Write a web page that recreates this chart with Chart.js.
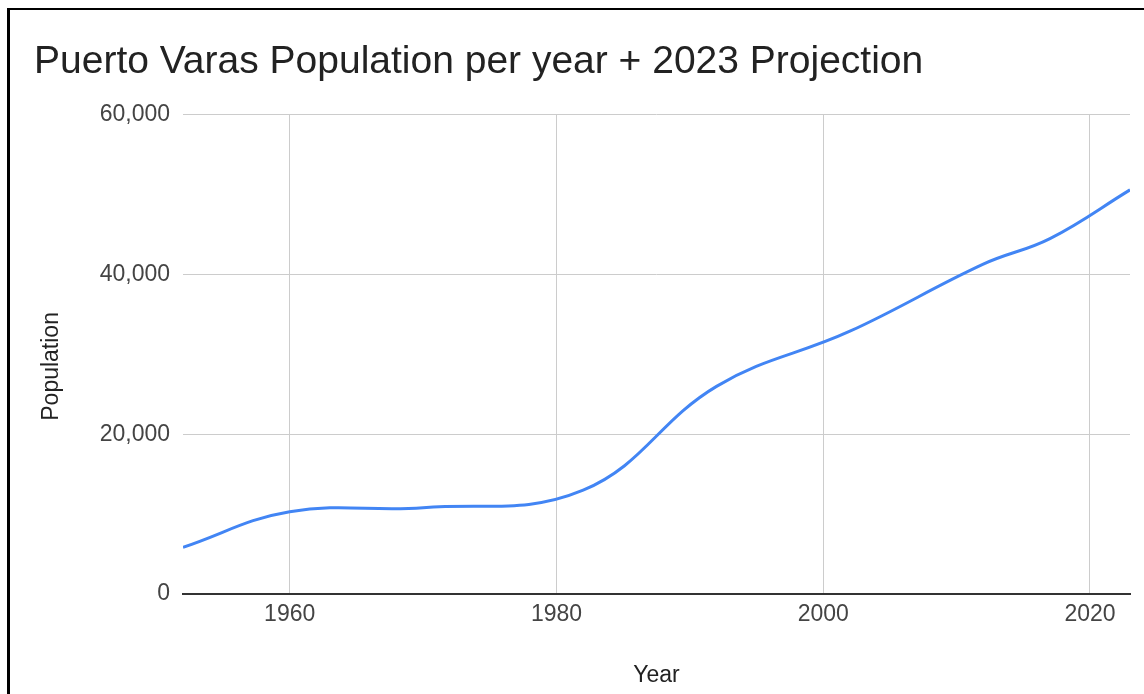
<!DOCTYPE html>
<html>
<head>
<meta charset="utf-8">
<title>Puerto Varas Population</title>
<script src="https://cdn.jsdelivr.net/npm/chart.js@4/dist/chart.umd.min.js"></script>
<style>
  html, body { margin: 0; padding: 0; background: #fff; overflow: hidden; }
  #wrap { position: relative; width: 1144px; height: 694px; }
  #frame {
    position: absolute; left: 7px; top: 8px; width: 1200px; height: 800px;
    border-left: 3px solid #000; border-top: 2px solid #000; pointer-events: none;
  }
</style>
</head>
<body>
<div id="wrap">
  <canvas id="chart" width="1144" height="694"></canvas>
  <div id="frame"></div>
</div>
<script>
// Census counts and the 2023 projection
const years = [1952, 1960, 1970, 1982, 1992, 2002, 2012, 2017, 2023];
const population = [5850, 10300, 10800, 13000, 26000, 32900, 41300, 44500, 50600];

// Axis ticks
const yearTicks = [1960, 1980, 2000, 2020];
const populationTicks = [0, 20000, 40000, 60000];

const FONT = '"Liberation Sans", Arial, Helvetica, sans-serif';
const AXIS_TITLE_SIZE = 23;

// Vertical axis title, set a little below the middle of the plot
const yTitlePlugin = {
  id: 'yTitle',
  afterDraw(chart) {
    const { ctx, chartArea, scales } = chart;
    const lineHeight = AXIS_TITLE_SIZE * 1.2;
    ctx.save();
    ctx.translate(scales.y.left + 4 + lineHeight / 2, (chartArea.top + chartArea.bottom) / 2 + 12);
    ctx.rotate(-Math.PI / 2);
    ctx.fillStyle = '#222';
    ctx.font = AXIS_TITLE_SIZE + 'px ' + FONT;
    ctx.textAlign = 'center';
    ctx.textBaseline = 'middle';
    ctx.fillText('Population', 0, 0);
    ctx.restore();
  }
};

new Chart(document.getElementById('chart'), {
  type: 'line',
  data: {
    datasets: [{
      label: 'Population',
      data: years.map((y, i) => ({ x: y, y: population[i] })),
      borderColor: '#4285F4',
      borderWidth: 3,
      pointRadius: 0,
      pointHoverRadius: 0,
      tension: 0.4,
      fill: false
    }]
  },
  plugins: [yTitlePlugin],
  options: {
    responsive: false,
    animation: false,
    layout: { padding: { left: 34, right: 14, top: 0, bottom: 0 } },
    plugins: {
      legend: { display: false },
      tooltip: { enabled: false },
      title: {
        display: true,
        text: 'Puerto Varas Population per year + 2023 Projection',
        align: 'start',
        color: '#222',
        font: { family: FONT, size: 39, weight: 'normal' },
        padding: { top: 39, bottom: 29 }
      }
    },
    scales: {
      x: {
        type: 'linear',
        min: years[0],
        max: years[years.length - 1],
        afterBuildTicks: s => { s.ticks = yearTicks.map(v => ({ value: v })); },
        afterFit: s => { s.height = 100; },
        grid: { color: '#cccccc', lineWidth: 1, drawTicks: false },
        border: { display: true, color: '#333333', width: 2 },
        ticks: {
          color: '#444',
          font: { family: FONT, size: 23 },
          padding: 7,
          maxRotation: 0,
          callback: v => String(v)
        },
        title: {
          display: true,
          text: 'Year',
          color: '#222',
          font: { family: FONT, size: AXIS_TITLE_SIZE },
          padding: { top: 0, bottom: 5 }
        }
      },
      y: {
        min: populationTicks[0],
        max: populationTicks[populationTicks.length - 1],
        afterBuildTicks: s => { s.ticks = populationTicks.map(v => ({ value: v })); },
        afterFit: s => { s.width = 149; },
        grid: { color: '#cccccc', lineWidth: 1, drawTicks: false },
        border: { display: false },
        ticks: {
          color: '#444',
          font: { family: FONT, size: 23 },
          padding: 13,
          callback: v => v.toLocaleString('en-US')
        },
        title: { display: false }
      }
    }
  }
});
</script>
</body>
</html>
